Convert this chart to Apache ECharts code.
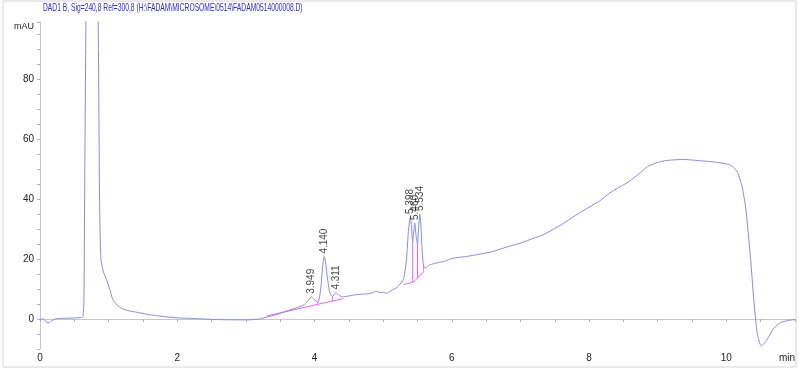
<!DOCTYPE html>
<html>
<head>
<meta charset="utf-8">
<script src="https://cdn.jsdelivr.net/npm/echarts@6/dist/echarts.min.js"></script>
<style>
  html, body { margin: 0; padding: 0; background: #fff; overflow: hidden; }
  #chart { width: 799px; height: 370px; }
</style>
</head>
<body>
<div id="chart"></div>
<script>
// DAD1 B trace, [min, mAU]
const trace = [
  [0.00, 0.0], [0.05, -0.1], [0.10, -1.1], [0.13, -1.3], [0.17, -0.6], [0.22, 0.0],
  [0.30, 0.2], [0.45, 0.3], [0.60, 0.5], [0.625, 0.8], [0.64, 6], [0.65, 40],
  [0.669, 99], [0.75, 300], [0.848, 99], [0.868, 40], [0.887, 20], [0.92, 16],
  [0.97, 13], [1.02, 9.7], [1.06, 6.5], [1.13, 4.5], [1.20, 3.4], [1.30, 2.7],
  [1.40, 2.3], [1.55, 1.6], [1.70, 1.1], [1.85, 0.7], [2.00, 0.4], [2.30, 0.1],
  [2.60, -0.2], [3.00, -0.3], [3.20, 0.0], [3.30, 0.6], [3.45, 1.5], [3.60, 2.7],
  [3.75, 3.8], [3.85, 4.8], [3.92, 6.5], [3.95, 7.4], [3.99, 6.6], [4.05, 5.5],
  [4.09, 10], [4.12, 18], [4.14, 20.8], [4.16, 19], [4.18, 15], [4.22, 9],
  [4.26, 7.4], [4.31, 8.8], [4.36, 7.8], [4.42, 7.4], [4.50, 7.7], [4.60, 8.1],
  [4.70, 8.3], [4.78, 8.4], [4.85, 8.8], [4.90, 9.3], [4.95, 8.8], [5.00, 8.9],
  [5.05, 8.6], [5.10, 9.3], [5.20, 10.5], [5.26, 12.0], [5.30, 13.5], [5.34, 20],
  [5.37, 30], [5.398, 34], [5.42, 28], [5.43, 25.5], [5.445, 29], [5.46, 32],
  [5.478, 28], [5.50, 25], [5.515, 30], [5.534, 35], [5.55, 31], [5.57, 22],
  [5.59, 17.5], [5.62, 17.0], [5.66, 17.8], [5.70, 18.2], [5.80, 18.8], [5.90, 19.3],
  [6.00, 20.2], [6.20, 20.8], [6.40, 21.6], [6.60, 22.5], [6.80, 24.0], [7.00, 25.3],
  [7.20, 27.0], [7.30, 27.8], [7.40, 28.9], [7.60, 31.5], [7.80, 34.5], [8.00, 37.3],
  [8.15, 39.3], [8.30, 42.0], [8.58, 45.8], [8.75, 48.8], [8.85, 50.8], [9.00, 52.2],
  [9.12, 52.8], [9.36, 53.2], [9.60, 52.8], [9.84, 52.3], [10.00, 51.7], [10.06, 51.3],
  [10.12, 50.2], [10.16, 49.0], [10.20, 46.5], [10.23, 44.0], [10.28, 37.4], [10.35, 20.8],
  [10.40, 6.3], [10.45, -4.8], [10.51, -9.0], [10.59, -7.0], [10.69, -3.1], [10.79, -1.2],
  [10.90, -0.5], [11.00, -0.2]
];

// integration baselines and valley drops
const baselines = [
  [3.30, 1.0], [4.05, 4.9], [4.42, 6.8], null,
  [5.30, 11.5], [5.43, 12.2], [5.50, 13.6], [5.59, 15.8]
];
const dropLines = [
  [4.05, 4.9], [4.05, 5.5], null,
  [4.26, 5.9], [4.26, 7.4], null,
  [5.43, 12.2], [5.43, 25.5], null,
  [5.50, 13.6], [5.50, 25], null,
  [5.59, 15.8], [5.59, 17.5]
];

const peakRT = [3.949, 4.140, 4.311, 5.398, 5.460, 5.534];
const peakTop = [7.4, 20.8, 8.8, 34, 32, 35];
const peakLabels = ["3.949", "4.140", "4.311", "5.398", "5.460", "5.534"];

const titleText = "DAD1 B, Sig=240,8 Ref=300,8 (H:\\FADAM\\MICROSOME\\0514\\FADAM0514000008.D)";

const font = "'Liberation Sans', Arial, sans-serif";

const chart = echarts.init(document.getElementById("chart"));

const option = {
  animation: false,
  textStyle: { fontFamily: font },
  graphic: [
    {
      type: "rect",
      shape: { x: 3, y: 1, width: 793, height: 366 },
      style: { fill: "none", stroke: "#d4d4d4", lineWidth: 1 },
      silent: true
    },
    {
      // condensed title, like the printout
      type: "text",
      x: 43,
      y: 3,
      scaleX: 0.64,
      style: {
        text: titleText,
        fill: "#2a2ae0",
        font: "10.5px " + font
      },
      silent: true
    }
  ],
  grid: { left: 40, right: 4, top: 22, bottom: 21, outerBoundsMode: "none" },
  xAxis: {
    type: "value",
    min: 0,
    max: 11,
    interval: 0.5,
    splitLine: { show: false },
    axisLine: { lineStyle: { color: "#c8c8c8" } },
    axisTick: { length: 3, lineStyle: { color: "#b0b0b0" } },
    axisLabel: {
      color: "#222",
      fontSize: 10,
      margin: 4,
      fontFamily: font,
      alignMaxLabel: "right",
      formatter: (v) => (v === 11 ? "min" : v % 2 === 0 ? String(v) : "")
    }
  },
  yAxis: {
    type: "value",
    min: -10,
    max: 99,
    interval: 5,
    name: "mAU",
    nameLocation: "end",
    nameGap: -5,
    nameTextStyle: { color: "#222", fontSize: 9, align: "right", verticalAlign: "middle", padding: [0, 6, 0, 0], fontFamily: font },
    splitLine: { show: false },
    axisLine: { lineStyle: { color: "#c8c8c8" } },
    axisTick: { length: 3, lineStyle: { color: "#b0b0b0" } },
    axisLabel: {
      color: "#222",
      fontSize: 10,
      margin: 6,
      fontFamily: font,
      formatter: (v) => (v % 20 === 0 ? String(v) : "")
    }
  },
  series: [
    {
      name: "DAD1 B",
      type: "line",
      data: trace,
      showSymbol: false,
      smooth: 0.2,
      clip: true,
      lineStyle: { color: "#8888f0", width: 1 },
      z: 3
    },
    {
      name: "baseline",
      type: "line",
      data: baselines,
      showSymbol: false,
      connectNulls: false,
      lineStyle: { color: "#f060f0", width: 1 },
      z: 2
    },
    {
      name: "drops",
      type: "line",
      data: dropLines,
      showSymbol: false,
      connectNulls: false,
      lineStyle: { color: "#f060f0", width: 1 },
      z: 2
    },
    {
      name: "peaks",
      type: "scatter",
      data: peakRT.map((t, i) => [t, peakTop[i]]),
      symbolSize: 0,
      label: {
        show: true,
        position: "top",
        distance: 3,
        rotate: 90,
        align: "left",
        verticalAlign: "middle",
        color: "#111",
        fontSize: 10,
        fontFamily: font,
        formatter: (p) => peakLabels[p.dataIndex]
      },
      z: 4
    }
  ]
};

chart.setOption(option);
</script>
</body>
</html>
